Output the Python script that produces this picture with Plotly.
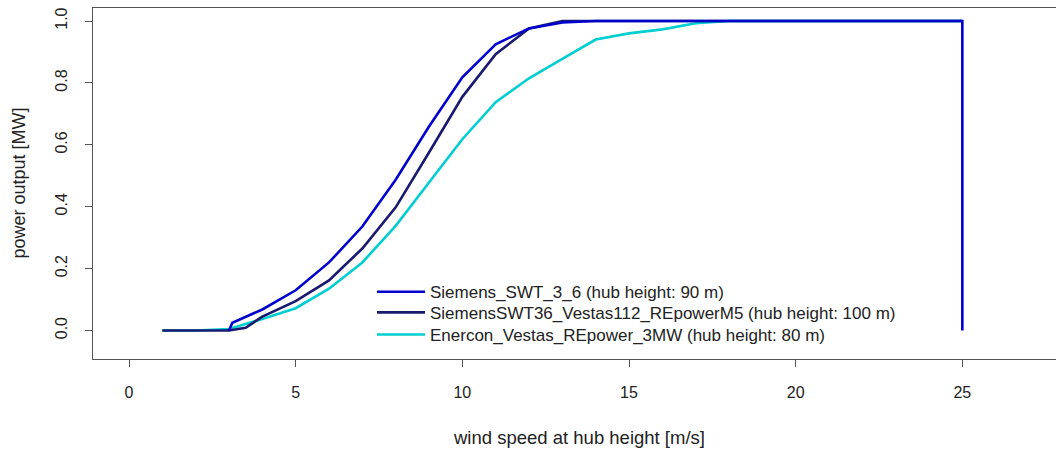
import plotly.graph_objects as go

# ---- data ----
siemens_ws = [3, 3.1, 4, 5, 6, 7, 8, 9, 10, 11, 12, 13, 14, 25, 25]
siemens_p = [0.0, 0.025, 0.068, 0.13, 0.22, 0.336, 0.487, 0.659, 0.818, 0.925, 0.976, 0.995, 1.0, 1.0, 0.0]

combo_ws = [1, 2, 3, 3.5, 4, 5, 6, 7, 8, 9, 10, 11, 12, 13, 25]
combo_p = [0.0, 0.0, 0.0, 0.009, 0.045, 0.095, 0.162, 0.265, 0.398, 0.575, 0.755, 0.893, 0.976, 1.0, 1.0]

enercon_ws = [1, 2, 3, 4, 5, 6, 7, 8, 9, 10, 11, 12, 13, 14, 15, 16, 17, 18, 25]
enercon_p = [0.0, 0.0, 0.005, 0.037, 0.072, 0.135, 0.22, 0.338, 0.478, 0.618, 0.738, 0.815, 0.878, 0.94, 0.96, 0.973, 0.993, 1.0, 1.0]

names = ["Siemens_SWT_3_6 (hub height: 90 m)",
         "SiemensSWT36_Vestas112_REpowerM5 (hub height: 100 m)",
         "Enercon_Vestas_REpower_3MW (hub height: 80 m)"]
colors = ["#0000CD", "#191970", "#00CED1"]

x_ticks = [0, 5, 10, 15, 20, 25]
y_ticks = [0.0, 0.2, 0.4, 0.6, 0.8, 1.0]
y_ticklabels = ["0.0", "0.2", "0.4", "0.6", "0.8", "1.0"]

FONT = "Liberation Sans, Arial, Helvetica, sans-serif"
LW = 2.6

fig = go.Figure()
# draw order: Enercon, combo, Siemens (on top); each in its own legend box
fig.add_trace(go.Scatter(x=enercon_ws, y=enercon_p, mode="lines", name=names[2],
                         line=dict(color=colors[2], width=LW), legend="legend3"))
fig.add_trace(go.Scatter(x=combo_ws, y=combo_p, mode="lines", name=names[1],
                         line=dict(color=colors[1], width=LW), legend="legend2"))
fig.add_trace(go.Scatter(x=siemens_ws, y=siemens_p, mode="lines", name=names[0],
                         line=dict(color=colors[0], width=LW), legend="legend"))

axis_common = dict(
    showgrid=False, zeroline=False, showline=True, linecolor="#555", linewidth=1,
    ticks="outside", ticklen=7, tickwidth=1, tickcolor="#555", automargin=False,
    tickfont=dict(family=FONT, size=16, color="#222"),
)

legend_common = dict(x=0.2897, xanchor="left", yanchor="top",
                     bgcolor="rgba(0,0,0,0)", borderwidth=0,
                     font=dict(family=FONT, size=17, color="#222"),
                     itemwidth=48)

fig.update_layout(
    width=1056, height=450,
    margin=dict(l=93, r=0, t=8, b=91),
    paper_bgcolor="white", plot_bgcolor="white",
    showlegend=True,
    legend=dict(y=0.2415, **legend_common),
    legend2=dict(y=0.1828, **legend_common),
    legend3=dict(y=0.1199, **legend_common),
    xaxis=dict(range=[-1.08, 27.81], tickvals=x_ticks, mirror=True,
               ticklabelstandoff=12, **axis_common),
    yaxis=dict(range=[-0.092, 1.042], tickvals=y_ticks, ticktext=y_ticklabels,
               tickangle=-90, ticklabelstandoff=12, **axis_common),
    annotations=[
        dict(text="wind speed at hub height [m/s]", xref="paper", yref="paper",
             x=(579 - 93) / 963, y=0, yshift=-78, xanchor="center", yanchor="middle",
             showarrow=False, font=dict(family=FONT, size=18.5, color="#222")),
        dict(text="power output [MW]", xref="paper", yref="paper",
             x=0, y=0.5, xshift=-75, xanchor="center", yanchor="middle", textangle=-90,
             showarrow=False, font=dict(family=FONT, size=18, color="#222")),
    ],
)

fig.write_html("out.html", config={"displayModeBar": False},
               post_script="document.body.style.margin='0px';")
